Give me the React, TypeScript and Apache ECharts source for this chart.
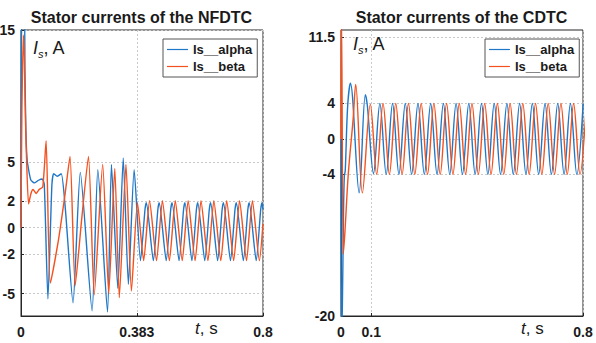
import React, { useEffect, useRef } from 'react';
import * as echarts from 'echarts';

const FONT = "'Liberation Sans', Arial, Helvetica, sans-serif";
const BLUE = '#1f77c8';
const ORANGE = '#f4511e';
const AXIS = '#262626';
const LABEL = '#1a1a1a';

const leftTitle = 'Stator currents of the NFDTC';
const rightTitle = 'Stator currents of the CDTC';
const seriesNames = ['Is__alpha', 'Is__beta'];

const nfdtcTimeTicks = [0, 0.383, 0.8];
const nfdtcCurrentTicks = [-5, -2, 0, 2, 5, 15];
const cdtcTimeTicks = [0, 0.1, 0.8];
const cdtcCurrentTicks = [-20, -4, 0, 4, 11.5];
const nfdtcRange = [-6.7, 15];
const cdtcRange = [-20, 12.3];
const timeRange = [0, 0.8];

// NFDTC stator currents [t (s), i (A)]
const nfdtcAlpha = [
  [0, 0], [0.002, 16.5], [0.011, 16.5], [0.013, 12], [0.016, 7.5], [0.02, 5.2], [0.026, 4.3],
  [0.033, 3.6], [0.045, 3.4], [0.058, 3.6], [0.07, 3.7], [0.077, 3.3], [0.089, -5.4],
  [0.102, 3.2], [0.108, 4.1], [0.12, 3.9], [0.133, 4.1], [0.146, 1.6], [0.172, -5.7],
  [0.196, 4.2], [0.235, -6.3], [0.254, 4.4], [0.286, -6.4], [0.299, 4.8], [0.32, -4.6],
  [0.338, 5.3], [0.355, -4.3], [0.374, 4.4],
  [0.395, -2.5], [0.41, 1.4], [0.4145, 1.9],
  [0.4375, -2.5], [0.4525, 1.4], [0.457, 1.9],
  [0.48, -2.5], [0.495, 1.4], [0.4995, 1.9],
  [0.5225, -2.5], [0.5375, 1.4], [0.542, 1.9],
  [0.565, -2.5], [0.58, 1.4], [0.5845, 1.9],
  [0.6075, -2.5], [0.6225, 1.4], [0.627, 1.9],
  [0.65, -2.5], [0.665, 1.4], [0.6695, 1.9],
  [0.6925, -2.5], [0.7075, 1.4], [0.712, 1.9],
  [0.735, -2.5], [0.75, 1.4], [0.7545, 1.9],
  [0.7775, -2.5], [0.7925, 1.4], [0.797, 1.9], [0.8, 1.4],
];

const nfdtcBeta = [
  [0, 0], [0.003, 9], [0.008, 14.6], [0.011, 13], [0.014, 9], [0.018, 5.5], [0.025, 1.8],
  [0.033, 2.6], [0.04, 2.9], [0.05, 2.6], [0.06, 2.9], [0.072, 3.1], [0.083, 6.6],
  [0.097, -4.2], [0.124, -0.9], [0.146, 2.6], [0.162, 5.4], [0.179, -4.4], [0.2, 0.5],
  [0.223, 5.4], [0.242, -5.1], [0.27, 4.8], [0.29, -5.0], [0.31, 4.5], [0.325, -5.3],
  [0.347, 4.8], [0.365, -4.8], [0.385, 1.9],
  [0.4055, -2.5], [0.425, 2.05], [0.448, -2.5], [0.4675, 2.05], [0.4905, -2.5], [0.51, 2.05],
  [0.533, -2.5], [0.5525, 2.05], [0.5755, -2.5], [0.595, 2.05], [0.618, -2.5], [0.6375, 2.05],
  [0.6605, -2.5], [0.68, 2.05], [0.703, -2.5], [0.7225, 2.05], [0.7455, -2.5], [0.765, 2.05],
  [0.788, -2.5], [0.8, 0.3],
];

// CDTC stator currents [t (s), i (A)]
const cdtcAlpha = [
  [0, 0], [0.0015, -22], [0.0045, -19], [0.008, -9], [0.011, -4.2], [0.014, -3.6],
  [0.022, 3.7], [0.031, 6.3], [0.06, -6.1], [0.0805, 5.0], [0.087, 3.8], [0.1075, -3.9],
  [0.1285, 4], [0.1495, -4], [0.1705, 4], [0.1915, -4], [0.2125, 4], [0.2335, -4],
  [0.2545, 4], [0.2755, -4], [0.2965, 4], [0.3175, -4], [0.3385, 4], [0.3595, -4],
  [0.3805, 4], [0.4015, -4], [0.4225, 4], [0.4435, -4], [0.4645, 4], [0.4855, -4],
  [0.5065, 4], [0.5275, -4], [0.5485, 4], [0.5695, -4], [0.5905, 4], [0.6115, -4],
  [0.6325, 4], [0.6535, -4], [0.6745, 4], [0.6955, -4], [0.7165, 4], [0.7375, -4],
  [0.7585, 4], [0.7795, -4], [0.8005, 4],
];

const cdtcBeta = [
  [0, 0], [0.001, 14], [0.003, 8], [0.0076, -13], [0.013, -10.5], [0.024, -4], [0.04, 2.2],
  [0.0486, 6.15], [0.0705, -6.1], [0.097, 3.9], [0.118, -4],
  [0.139, 4], [0.16, -4], [0.181, 4], [0.202, -4], [0.223, 4], [0.244, -4], [0.265, 4],
  [0.286, -4], [0.307, 4], [0.328, -4], [0.349, 4], [0.37, -4], [0.391, 4], [0.412, -4],
  [0.433, 4], [0.454, -4], [0.475, 4], [0.496, -4], [0.517, 4], [0.538, -4], [0.559, 4],
  [0.58, -4], [0.601, 4], [0.622, -4], [0.643, 4], [0.664, -4], [0.685, 4], [0.706, -4],
  [0.727, 4], [0.748, -4], [0.769, 4], [0.79, -4], [0.811, 4],
];

const tickLabel = { fontSize: 14, fontWeight: 'bold', fontFamily: FONT, color: LABEL };
const split = { show: true, lineStyle: { color: '#c9c9c9', type: [2, 2], width: 1 } };

function xAxisFor(gridIndex: number, ticks: number[]) {
  return {
    type: 'value', gridIndex, min: timeRange[0], max: timeRange[1],
    axisLine: { show: true, onZero: false, lineStyle: { color: AXIS, width: 1 } },
    axisTick: { show: true, inside: true, length: 3, customValues: ticks, lineStyle: { color: AXIS } },
    axisLabel: { ...tickLabel, margin: 9, customValues: ticks },
    splitLine: split,
  };
}

function yAxisFor(gridIndex: number, ticks: number[], range: number[]) {
  return {
    type: 'value', gridIndex, min: range[0], max: range[1],
    axisLine: { show: true, onZero: false, lineStyle: { color: AXIS, width: 1 } },
    axisTick: { show: true, inside: true, length: 3, customValues: ticks, lineStyle: { color: AXIS } },
    axisLabel: { ...tickLabel, margin: 6, customValues: ticks },
    splitLine: split,
  };
}

function lineSeries(name: string, data: number[][], idx: number, color: string, smooth: number) {
  return {
    type: 'line', name, data, xAxisIndex: idx, yAxisIndex: idx,
    symbol: 'none', smooth, clip: true,
    lineStyle: { color, width: 1.4 }, itemStyle: { color },
  };
}

function legendAt(left: number) {
  return {
    data: seriesNames, left, top: 39, orient: 'vertical', icon: 'rect',
    padding: [4, 5, 4, 4], itemGap: 4, itemWidth: 21, itemHeight: 1.2,
    borderColor: '#555', borderWidth: 1, backgroundColor: '#fff',
    textStyle: { fontSize: 13, fontWeight: 'bold', fontFamily: FONT, color: LABEL, lineHeight: 13 },
  };
}

const richIs = {
  i: { fontStyle: 'italic', fontSize: 18, fontFamily: FONT, lineHeight: 22, fill: LABEL },
  s: { fontStyle: 'italic', fontSize: 11, fontFamily: FONT, lineHeight: 10, verticalAlign: 'bottom', fill: LABEL },
  n: { fontSize: 18, fontFamily: FONT, lineHeight: 22, fill: LABEL },
};
const richT = {
  i: { fontStyle: 'italic', fontSize: 17, fontFamily: FONT, fill: LABEL },
  n: { fontSize: 17, fontFamily: FONT, fill: LABEL },
};

export default function App() {
  const ref = useRef<HTMLDivElement>(null);
  useEffect(() => {
    if (!ref.current) return;
    const chart = echarts.init(ref.current, null, { renderer: 'svg' });
    chart.setOption({
      animation: false,
      backgroundColor: '#fff',
      grid: [
        { left: 21, top: 30, width: 242, height: 286, show: true, borderColor: AXIS, borderWidth: 1, outerBoundsMode: 'none', containLabel: false },
        { left: 341, top: 30, width: 242, height: 286, show: true, borderColor: AXIS, borderWidth: 1, outerBoundsMode: 'none', containLabel: false },
      ],
      xAxis: [xAxisFor(0, nfdtcTimeTicks), xAxisFor(1, cdtcTimeTicks)],
      yAxis: [yAxisFor(0, nfdtcCurrentTicks, nfdtcRange), yAxisFor(1, cdtcCurrentTicks, cdtcRange)],
      legend: [legendAt(163), legendAt(485)],
      series: [
        lineSeries(seriesNames[0], nfdtcAlpha, 0, BLUE, 0.2),
        lineSeries(seriesNames[1], nfdtcBeta, 0, ORANGE, 0.2),
        lineSeries(seriesNames[0], cdtcAlpha, 1, BLUE, 0.35),
        lineSeries(seriesNames[1], cdtcBeta, 1, ORANGE, 0.35),
      ],
      graphic: [
        { type: 'text', z: 100, style: { text: leftTitle, x: 141.5, y: 17, align: 'center', verticalAlign: 'middle', fontSize: 16, fontWeight: 'bold', fontFamily: FONT, fill: LABEL } },
        { type: 'text', z: 100, style: { text: rightTitle, x: 461.5, y: 17, align: 'center', verticalAlign: 'middle', fontSize: 16, fontWeight: 'bold', fontFamily: FONT, fill: LABEL } },
        { type: 'text', z: 100, style: { text: '{i|I}{s|s}{n|, A}', x: 33, y: 48, verticalAlign: 'middle', rich: richIs } },
        { type: 'text', z: 100, style: { text: '{i|I}{s|s}{n|, A}', x: 353, y: 44, verticalAlign: 'middle', rich: richIs } },
        { type: 'text', z: 100, style: { text: '{i|t}{n|, s}', x: 195, y: 328, verticalAlign: 'middle', rich: richT } },
        { type: 'text', z: 100, style: { text: '{i|t}{n|, s}', x: 521, y: 328, verticalAlign: 'middle', rich: richT } },
      ],
    });
    return () => chart.dispose();
  }, []);
  return <div ref={ref} style={{ position: 'absolute', left: 0, top: 0, width: 596, height: 343 }} />;
}
